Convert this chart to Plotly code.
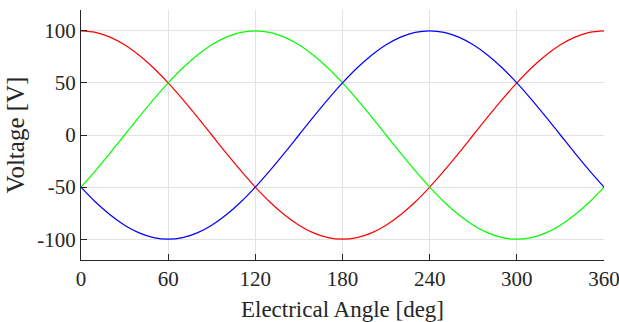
import plotly.graph_objects as go

# Electrical angle samples [deg]
angle_deg = list(range(0, 361, 10))

# Phase voltages [V] sampled every 10 degrees
phase_a = [100, 98.5, 94.0, 86.6, 76.6, 64.3, 50, 34.2, 17.4, 0, -17.4, -34.2, -50,
           -64.3, -76.6, -86.6, -94.0, -98.5, -100, -98.5, -94.0, -86.6, -76.6, -64.3,
           -50, -34.2, -17.4, 0, 17.4, 34.2, 50, 64.3, 76.6, 86.6, 94.0, 98.5, 100]
phase_b = [-50, -34.2, -17.4, 0, 17.4, 34.2, 50, 64.3, 76.6, 86.6, 94.0, 98.5, 100,
           98.5, 94.0, 86.6, 76.6, 64.3, 50, 34.2, 17.4, 0, -17.4, -34.2, -50, -64.3,
           -76.6, -86.6, -94.0, -98.5, -100, -98.5, -94.0, -86.6, -76.6, -64.3, -50]
phase_c = [-50, -64.3, -76.6, -86.6, -94.0, -98.5, -100, -98.5, -94.0, -86.6, -76.6,
           -64.3, -50, -34.2, -17.4, 0, 17.4, 34.2, 50, 64.3, 76.6, 86.6, 94.0, 98.5,
           100, 98.5, 94.0, 86.6, 76.6, 64.3, 50, 34.2, 17.4, 0, -17.4, -34.2, -50]

x_ticks = [0, 60, 120, 180, 240, 300, 360]
y_ticks = [-100, -50, 0, 50, 100]

ink = "#262626"
font_family = "Liberation Serif, Times New Roman, serif"

fig = go.Figure()
for vals, col in [(phase_a, "#ff0000"), (phase_b, "#00ff00"), (phase_c, "#0000ff")]:
    fig.add_trace(go.Scatter(x=angle_deg, y=vals, mode="lines",
                             line=dict(color=col, width=1.2, shape="spline", smoothing=1.0),
                             showlegend=False, hoverinfo="skip"))

fig.update_layout(
    width=619, height=322,
    margin=dict(l=81, r=15, t=10, b=62),
    paper_bgcolor="white", plot_bgcolor="white",
    font=dict(family=font_family, size=20, color=ink),
)
fig.update_xaxes(
    range=[0, 360], tickvals=x_ticks, ticktext=[str(v) for v in x_ticks],
    showgrid=True, gridcolor="#e3e3e3", gridwidth=1,
    showline=True, linecolor=ink, linewidth=1.3,
    ticks="inside", ticklen=6, tickcolor=ink, tickwidth=1,
    zeroline=False, automargin=False, ticklabeloverflow="allow",
    tickfont=dict(size=21),
    title=dict(text="Electrical Angle [deg]", font=dict(size=23, family=font_family, color=ink), standoff=11),
)
fig.update_yaxes(
    range=[-120, 120], tickvals=y_ticks, ticktext=[str(v) for v in y_ticks],
    showgrid=True, gridcolor="#e3e3e3", gridwidth=1,
    showline=True, linecolor=ink, linewidth=1.3,
    ticks="inside", ticklen=6, tickcolor=ink, tickwidth=1,
    zeroline=False, automargin=False, ticklabeloverflow="allow",
    tickfont=dict(size=21),
    title=dict(text="Voltage [V]", font=dict(size=25, family=font_family, color=ink), standoff=5),
)

fig.write_html("out.html")
